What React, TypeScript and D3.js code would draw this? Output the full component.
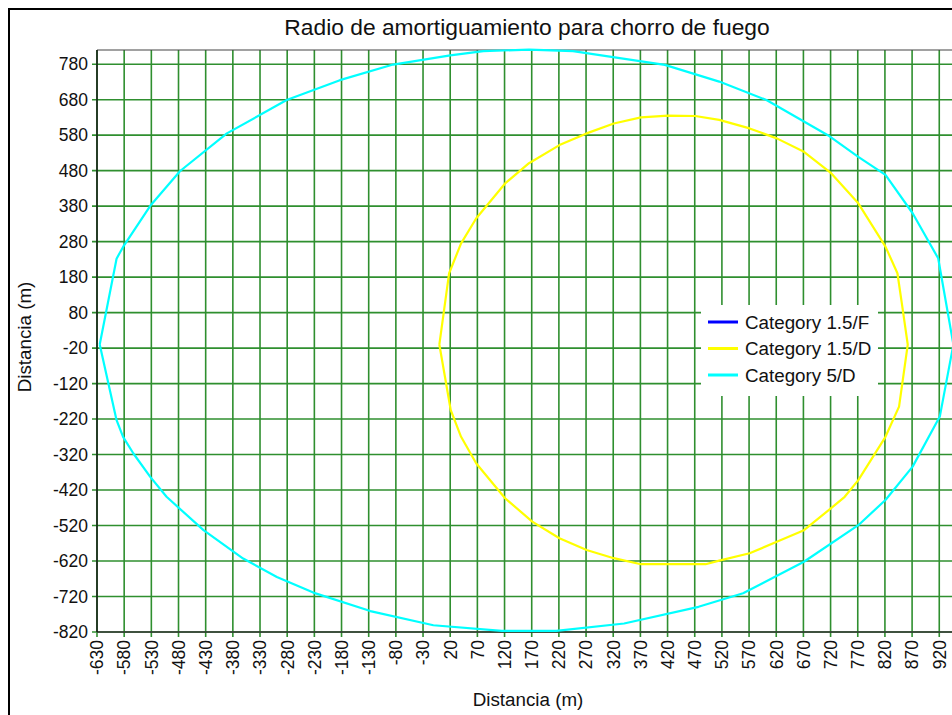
import { useMemo } from "react"
import * as d3 from "d3"

// values (metres)
const seriesNames = ["Category 1.5/F", "Category 1.5/D", "Category 5/D"]
const seriesColors = ["#0000ff", "#ffff00", "#00ffff"]

// 1.5/F has no visible trace in the picture
const cat15F: [number, number][] = []

const cat15D: [number, number][] = [
  [0, -10], [18, 191], [40, 275], [68, 346], [121, 444], [165, 501], [221, 552],
  [271, 585], [321, 613], [371, 630], [421, 635], [471, 634], [515, 623], [571, 599],
  [621, 571], [671, 533], [721, 473], [771, 388], [821, 266], [843, 191], [852, 97],
  [862, -10], [846, -185], [821, -270], [771, -392], [746, -439], [721, -471],
  [671, -533], [621, -566], [571, -598], [515, -619], [490, -629], [371, -629],
  [321, -612], [271, -589], [221, -556], [171, -509], [121, -443], [68, -345],
  [40, -270], [21, -195], [0, -10],
]

const cat5D: [number, number][] = [
  [-625, -10], [-594, 232], [-582, 265], [-532, 381], [-477, 479], [-391, 585],
  [-281, 679], [-183, 735], [-85, 779], [20, 805], [81, 817], [165, 821], [246, 817],
  [415, 778], [515, 731], [602, 679], [715, 580], [771, 519], [821, 468], [871, 360],
  [918, 233], [946, -10], [921, -213], [871, -354], [821, -448], [771, -519],
  [671, -622], [559, -711], [477, -749], [340, -796], [215, -817], [115, -817],
  [-11, -801], [-127, -761], [-232, -709], [-299, -665], [-361, -613], [-434, -533],
  [-502, -439], [-532, -383], [-563, -317], [-582, -270], [-594, -223], [-625, -10],
]

const xTicks = d3.range(-630, 921, 50)
const yTicks = d3.range(-820, 781, 100)

const W = 952
const H = 715
const FONT = "'Liberation Sans', Arial, sans-serif"
const GRID = "#2f8f2f"

export default function App() {
  const margin = { left: 97, top: 50, right: 961, bottom: 632 }

  const x = useMemo(() => d3.scaleLinear().domain([-630, 960]).range([margin.left, margin.right]), [])
  const y = useMemo(() => d3.scaleLinear().domain([-820, 820]).range([margin.bottom, margin.top]), [])

  const line = d3
    .line<[number, number]>()
    .x((d) => x(d[0]))
    .y((d) => y(d[1]))

  const series = [cat15F, cat15D, cat5D]

  const legendY = [322, 348.5, 375]

  return (
    <svg
      width={W}
      height={H}
      style={{ position: "absolute", left: 0, top: 0, background: "#fff" }}
      fontFamily={FONT}
    >
      <rect x={0} y={0} width={W} height={H} fill="#fff" />
      {/* outer frame, cut off at right and bottom */}
      <rect x={9} y={9} width={W + 20} height={H + 20} fill="none" stroke="#000" strokeWidth={2} />

      <text x={527} y={35} fontSize={22.8} textAnchor="middle" fill="#111">
        Radio de amortiguamiento para chorro de fuego
      </text>

      {/* grid + ticks */}
      <g stroke={GRID} strokeWidth={1.6}>
        {yTicks.map((t) => (
          <line key={"gy" + t} x1={margin.left - 5} x2={margin.right} y1={y(t)} y2={y(t)} />
        ))}
        {xTicks.map((t) => (
          <line key={"gx" + t} x1={x(t)} x2={x(t)} y1={margin.top} y2={margin.bottom + 5} />
        ))}
      </g>

      {/* plot frame */}
      <line x1={margin.left} x2={W} y1={margin.top} y2={margin.top} stroke="#444" strokeWidth={1.2} />
      <line x1={margin.left} x2={W} y1={margin.bottom} y2={margin.bottom} stroke="#333" strokeWidth={1.4} />
      <line x1={margin.left} x2={margin.left} y1={margin.top} y2={margin.bottom} stroke="#111" strokeWidth={1.4} />

      {/* tick labels */}
      <g fontSize={17.5} fill="#111">
        {yTicks.map((t) => (
          <text key={"ly" + t} x={88} y={y(t)} dy="0.36em" textAnchor="end">
            {String(t)}
          </text>
        ))}
        {xTicks.map((t) => (
          <text
            key={"lx" + t}
            transform={`translate(${x(t)},${640}) rotate(-90)`}
            dy="0.36em"
            textAnchor="end"
          >
            {String(t)}
          </text>
        ))}
      </g>

      {/* series */}
      {series.map((s, i) =>
        s.length ? (
          <path
            key={seriesNames[i]}
            d={line(s) || ""}
            fill="none"
            stroke={seriesColors[i]}
            strokeWidth={2.2}
            strokeLinejoin="round"
          />
        ) : null
      )}

      {/* legend */}
      <rect x={701} y={305} width={177} height={91} fill="#fff" />
      {seriesNames.map((n, i) => (
        <g key={"lg" + n}>
          <line x1={708} x2={738} y1={legendY[i]} y2={legendY[i]} stroke={seriesColors[i]} strokeWidth={3} />
          <text x={745} y={legendY[i]} dy="0.36em" fontSize={18.8} fill="#111">
            {n}
          </text>
        </g>
      ))}

      {/* axis titles */}
      <text x={528} y={706} fontSize={18.8} textAnchor="middle" fill="#111">
        Distancia (m)
      </text>
      <text transform="translate(31,337) rotate(-90)" fontSize={18.8} textAnchor="middle" fill="#111">
        Distancia (m)
      </text>
    </svg>
  )
}
